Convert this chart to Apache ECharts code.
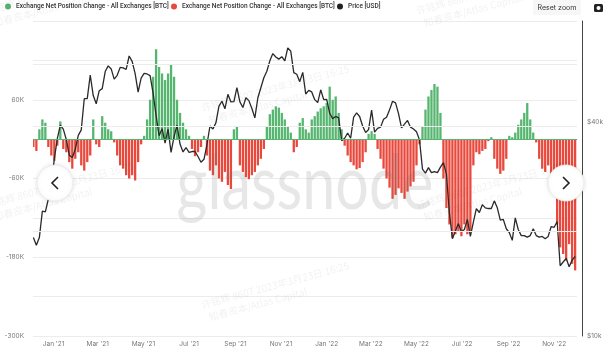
<!DOCTYPE html>
<html><head><meta charset="utf-8">
<script src="https://cdn.jsdelivr.net/npm/echarts@6/dist/echarts.min.js"></script>
<style>html,body{margin:0;padding:0;background:#fff}#c{width:607px;height:355px}</style>
</head><body><div id="c"></div>
<script>
// ---- data ----
const START = '2020-12-05';
const END = '2022-12-01';
const STEP_DAYS = 4; // one sample every 4 days, starting at START

// Exchange net position change, thousands of BTC
const netChangeK = [
 -12,-18,15,30,25,-12,-25,-33,-10,27,
 -15,-20,-35,-45,-30,-20,-40,-48,-35,-25,
 30,-8,-12,35,25,15,12,-5,-25,-40,
 -45,-55,-60,-55,-63,-35,-8,5,30,60,
 95,137,110,100,90,100,114,95,60,40,
 25,15,5,-15,-26,-20,-12,5,-25,-48,
 -55,-40,-60,-65,-50,-70,-76,15,20,-40,
 -50,-58,-61,-55,-50,-40,-30,-15,20,38,
 45,50,48,40,30,20,10,-20,-12,25,
 32,15,10,30,35,42,47,50,55,80,
 60,65,40,15,-10,-25,-35,-40,-46,-44,
 -35,-20,8,12,8,-15,-30,-45,-60,-74,
 -91,-85,-75,-82,-91,-80,-72,-65,-40,-8,
 20,45,65,75,84,80,40,-60,-105,-130,
 -150,-145,-140,-148,-130,-145,-140,-40,-20,-23,
 -18,-15,-3,3,-30,-45,-53,-48,-30,5,
 3,10,22,30,40,55,30,10,-5,-30,
 -45,-50,-40,-55,-70,-130,-165,-175,-185,-160,
 -190,-200
];

// BTC price, thousands of USD
const priceK = [
 19.15,18.2,19.15,22.8,22.7,24.7,27.4,32.2,36.8,40.2,
 39.2,36.6,33.0,32.5,34.3,37.6,39.0,47.9,47.9,56.0,
 48.9,46.3,50.5,51.2,57.3,59.5,58.3,54.5,55.9,58.9,
 58.7,58.1,63.5,61.3,56.5,50.0,54.9,56.6,56.4,55.8,
 49.7,42.9,37.5,39.3,35.7,39.2,33.6,37.3,40.2,35.5,
 33.7,34.7,33.6,33.8,33.8,32.7,31.5,32.1,35.4,40.0,
 39.2,40.9,45.6,47.1,44.8,49.3,46.9,47.0,51.5,46.9,
 45.2,48.2,47.3,44.9,42.2,48.2,51.5,55.0,57.4,61.5,
 64.5,63.1,62.2,63.2,61.5,67.0,65.5,56.9,56.3,53.6,
 57.0,49.4,50.6,50.1,47.6,46.7,50.8,47.6,47.7,43.5,
 42.0,42.6,42.2,36.3,36.9,38.2,36.9,42.4,43.6,42.6,
 40.0,38.3,39.1,44.4,38.4,39.4,39.7,41.8,42.4,44.5,
 47.1,46.6,43.4,39.5,40.5,41.5,39.7,39.2,38.5,36.5,
 30.1,29.3,30.4,29.4,29.6,29.4,30.5,31.4,29.1,22.5,
 19.0,20.0,21.0,19.9,20.2,21.6,19.3,21.2,23.2,22.6,
 23.8,23.3,23.2,23.2,24.4,23.3,21.5,21.6,20.3,19.8,
 18.8,21.8,20.2,19.4,19.4,19.2,19.4,20.3,19.4,19.2,
 19.3,19.0,19.3,20.6,20.5,21.3,15.9,16.3,16.7,15.8,
 16.5,16.9
];

const leftTickLabels = [60000, -60000, -180000, -300000];
const rightGridValues = [20000, 40000, 60000];
const MONTHS = ['Jan','Feb','Mar','Apr','May','Jun','Jul','Aug','Sep','Oct','Nov','Dec'];
const LEGEND_TEXT = {
  pos: 'Exchange Net Position Change - All Exchanges [BTC]',
  neg: 'Exchange Net Position Change - All Exchanges [BTC]',
  price: 'Price [USD]'
};

// ---- build ----
const DAY = 86400000;
const t0 = Date.parse(START + 'T00:00:00Z'), t1 = Date.parse(END + 'T00:00:00Z');
const axisDates = [];
for (let t = t0; t <= t1; t += DAY) axisDates.push(new Date(t).toISOString().slice(0, 10));
const sampleDates = netChangeK.map((_, i) => axisDates[i * STEP_DAYS]);

const posData = [], negData = [];
netChangeK.forEach((v, i) => {
  if (v > 0) posData.push([sampleDates[i], v * 1000]);
  else if (v < 0) negData.push([sampleDates[i], v * 1000]);
});
const priceData = priceK.map((v, i) => [sampleDates[i], v * 1000]);

const FONT = 'Inter';
const GREEN = '#56b56f', RED = '#e9483c';

const chart = echarts.init(document.getElementById('c'), null, { renderer: 'canvas' });

function watermark(x, y) {
  const st = { fontSize: 10, fontFamily: 'Noto Sans CJK SC', fill: 'rgba(0,0,0,0.06)' };
  return {
    type: 'group', x: x, y: y, rotation: 15 * Math.PI / 180, silent: true,
    children: [
      { type: 'text', z: 50, x: 0, y: 0, style: Object.assign({ text: '许铭辉 8607 2023年3月23日 16:25' }, st) },
      { type: 'text', z: 50, x: 4, y: 14, style: Object.assign({ text: '知春资本/Atlas Capital' }, st) }
    ]
  };
}
function navButton(cx, cy, dir) {
  const pts = dir < 0 ? [[cx + 3, cy - 6], [cx - 3, cy], [cx + 3, cy + 6]] : [[cx - 3, cy - 6], [cx + 3, cy], [cx - 3, cy + 6]];
  return {
    type: 'group', silent: true,
    children: [
      { type: 'circle', z: 100, shape: { cx: cx, cy: cy, r: 18 }, style: { fill: '#fff', stroke: '#ececec', lineWidth: 1, shadowBlur: 4, shadowColor: 'rgba(0,0,0,0.10)' } },
      { type: 'polyline', z: 101, shape: { points: pts }, style: { stroke: '#222', lineWidth: 1.6, fill: null } }
    ]
  };
}
function legendAt(left, name) {
  return {
    left: left, top: 3, padding: 0, itemWidth: 6, itemHeight: 6, icon: 'circle',
    data: [name], formatter: n => LEGEND_TEXT[n],
    textStyle: { fontSize: 6.5, color: '#333', fontFamily: 'Roboto', fontWeight: 500 }
  };
}

chart.setOption({
  animation: false,
  backgroundColor: '#fff',
  textStyle: { fontFamily: FONT },
  grid: { left: 33, right: 30, top: 21, bottom: 19 },
  legend: [legendAt(5, 'pos'), legendAt(171, 'neg'), legendAt(337, 'price')],
  xAxis: {
    type: 'category', data: axisDates, boundaryGap: true,
    axisLine: { show: true, lineStyle: { color: '#e6e6e6' } },
    axisTick: { show: false },
    axisLabel: {
      interval: (idx, val) => val.slice(8) === '01' && (parseInt(val.slice(5, 7), 10) % 2 === 1),
      formatter: v => MONTHS[parseInt(v.slice(5, 7), 10) - 1] + " '" + v.slice(2, 4),
      fontSize: 6.5, color: '#777', margin: 5
    },
    splitLine: { show: false }
  },
  yAxis: [
    {
      type: 'value', min: -300000, max: 180000, interval: 60000,
      axisLine: { show: false }, axisTick: { show: false },
      axisLabel: { formatter: v => leftTickLabels.includes(v) ? (v / 1000) + 'K' : '', fontSize: 6.5, color: '#777', margin: 9 },
      splitLine: { lineStyle: { color: '#ececec', width: 1 } }
    },
    {
      type: 'log', logBase: 10, min: 10000, max: 80000, position: 'right', offset: 5,
      axisLine: { show: true, lineStyle: { color: '#444', width: 1 } },
      axisTick: { show: false },
      axisLabel: { show: true, formatter: v => Math.abs(v - 10000) < 1 ? '$10k' : '', fontSize: 6.5, color: '#777', margin: 5, padding: [0, 0, 6, 0] },
      splitLine: { show: false }
    }
  ],
  series: [
    {
      name: 'grid2', type: 'line', yAxisIndex: 1, data: priceData, z: 1, silent: true,
      showSymbol: false, lineStyle: { width: 0, opacity: 0 }, legendHoverLink: false,
      markLine: {
        silent: true, symbol: 'none', animation: false,
        lineStyle: { color: '#ececec', type: 'solid', width: 1 },
        label: { show: false },
        data: rightGridValues.map(v => v === 40000 ? {
          yAxis: v,
          label: { show: true, position: 'end', formatter: '$40k', distance: 10, offset: [0, -4], fontSize: 6.5, color: '#777', fontFamily: FONT }
        } : { yAxis: v })
      }
    },
    {
      name: 'pos', type: 'bar', stack: 'net', data: posData, barWidth: 2.3, z: 2,
      itemStyle: { color: GREEN },
      markLine: {
        silent: true, symbol: 'none', animation: false, label: { show: false },
        lineStyle: { color: GREEN, type: 'solid', width: 1.2 },
        data: [{ yAxis: 0 }]
      }
    },
    {
      name: 'neg', type: 'bar', stack: 'net', data: negData, barWidth: 2.3, z: 2,
      itemStyle: { color: RED }
    },
    {
      name: 'price', type: 'line', yAxisIndex: 1, data: priceData, z: 3,
      showSymbol: false, symbol: 'none',
      itemStyle: { color: '#222' },
      lineStyle: { color: '#2a2a2a', width: 1.3 }
    }
  ],
  graphic: [
    { type: 'text', x: 305, y: 184, silent: true, z: 40, scaleX: 0.78,
      style: { text: 'glassnode', fontSize: 76, fontFamily: 'Lato', fontWeight: 400, fill: 'rgba(110,110,110,0.17)', align: 'center', verticalAlign: 'middle' } },
    watermark(-15, 200), watermark(200, 103), watermark(200, 300), watermark(415, 200), watermark(415, 6), watermark(-15, 6),
    navButton(55, 183, -1), navButton(566, 183, 1),
    { type: 'group', silent: true, children: [
      { type: 'rect', z: 100, shape: { x: 533, y: 0, width: 48, height: 15, r: 2 }, style: { fill: '#f7f7f7' } },
      { type: 'text', z: 101, x: 557, y: 7.5, style: { text: 'Reset zoom', fontSize: 7, fontFamily: FONT, fill: '#333', align: 'center', verticalAlign: 'middle' } },
      { type: 'rect', z: 100, shape: { x: 594, y: 4, width: 9, height: 8, r: 1.5 }, style: { fill: '#222' } },
      { type: 'circle', z: 101, shape: { cx: 598.5, cy: 8, r: 2 }, style: { fill: '#fff' } }
    ] }
  ]
});
</script></body></html>
